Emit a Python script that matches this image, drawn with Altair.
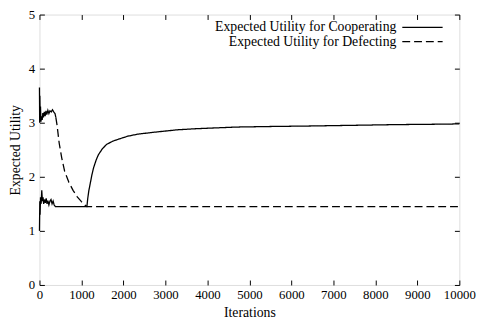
import altair as alt
import pandas as pd

# ---- data ----
coop_iter = [0, 8, 15, 25, 40, 55, 70, 85, 100, 120, 140, 160, 180, 200, 225, 250, 275, 300, 325, 350, 380,
             1130, 1150, 1175, 1210, 1250, 1290, 1350, 1405, 1500, 1600, 1750, 1900, 2100, 2350, 2800, 3300,
             3750, 4700, 5500, 6500, 7300, 8500, 9800, 10000]
coop_val = [1.0, 1.55, 1.3, 1.62, 1.5, 1.75, 1.55, 1.62, 1.5, 1.58, 1.52, 1.6, 1.5, 1.56, 1.48, 1.55, 1.58, 1.5, 1.55, 1.48, 1.45,
            1.45, 1.6, 1.74, 1.88, 2.04, 2.17, 2.31, 2.41, 2.52, 2.60, 2.66, 2.70, 2.75, 2.79, 2.83, 2.87,
            2.89, 2.92, 2.93, 2.94, 2.95, 2.965, 2.975, 2.98]

defect_early_iter = [0, 5, 10, 18, 25, 35, 50, 65, 80, 95, 115, 135, 155, 175, 200, 225, 250, 280, 310, 340, 370, 390]
defect_early_val = [3.65, 3.0, 3.5, 3.05, 3.3, 3.02, 3.12, 3.05, 3.18, 3.1, 3.2, 3.12, 3.22, 3.15, 3.23, 3.17, 3.22, 3.2,
                    3.24, 3.2, 3.17, 3.1]
defect_late_iter = [390, 420, 470, 530, 600, 700, 800, 900, 1000, 1080, 1130, 10000]
defect_late_val = [3.1, 2.95, 2.62, 2.35, 2.1, 1.9, 1.75, 1.63, 1.54, 1.48, 1.45, 1.45]

labels = ["Expected Utility for Cooperating", "Expected Utility for Defecting"]

x_ticks = list(range(0, 10001, 1000))
y_ticks = [0, 1, 2, 3, 4, 5]

rows = []
for i, v in zip(coop_iter, coop_val):
    rows.append({"iter": i, "u": v, "part": "coop", "style": "solid"})
for i, v in zip(defect_early_iter, defect_early_val):
    rows.append({"iter": i, "u": v, "part": "def_early", "style": "solid"})
for i, v in zip(defect_late_iter, defect_late_val):
    rows.append({"iter": i, "u": v, "part": "def_late", "style": "dashed"})
df = pd.DataFrame(rows)

FONT = "Liberation Serif"
W, H = 427, 275
LFS = 13
TFS = 14

xscale = alt.Scale(domain=[0, 10000], nice=False, zero=False)
yscale = alt.Scale(domain=[0, 5], nice=False)

lines = alt.Chart(df).mark_line(color="black", strokeWidth=1.3).encode(
    x=alt.X("iter:Q", scale=xscale,
            axis=alt.Axis(orient="bottom", values=x_ticks, format="d", title="Iterations",
                          offset=-5, tickSize=5, domain=False, grid=False, labelPadding=4,
                          labelOverlap=False, labelBound=False, labelFlush=False,
                          labelFont=FONT, labelFontSize=LFS, labelColor="black", tickColor="black",
                          titleFont=FONT, titleFontSize=TFS, titleFontWeight="normal", titleColor="black",
                          titleBaseline="alphabetic", titleY=37)),
    y=alt.Y("u:Q", scale=yscale,
            axis=alt.Axis(orient="left", values=y_ticks, format="d", title="Expected Utility",
                          offset=-5, tickSize=5, domain=False, grid=False, labelPadding=5,
                          labelOverlap=False, labelFlush=False,
                          labelFont=FONT, labelFontSize=LFS, labelColor="black", tickColor="black",
                          titleFont=FONT, titleFontSize=TFS, titleFontWeight="normal", titleColor="black",
                          titleBaseline="alphabetic", titleX=-25)),
    strokeDash=alt.StrokeDash("style:N", scale=alt.Scale(domain=["solid", "dashed"], range=[[1, 0], [8, 4]]),
                              legend=None),
    detail="part:N",
)

mirror = alt.Chart(df).mark_point(opacity=0).encode(
    x=alt.X("iter:Q", scale=xscale,
            axis=alt.Axis(orient="top", values=x_ticks, labels=False, title=None, offset=-5, tickSize=5,
                          domain=False, grid=False, tickColor="black")),
    y=alt.Y("u:Q", scale=yscale,
            axis=alt.Axis(orient="right", values=y_ticks, labels=False, title=None, offset=-5, tickSize=5,
                          domain=False, grid=False, tickColor="black")),
)

legend_layers = []
row_y = [13, 27.5]
dashes = [[1, 0], [8, 4]]
for lab, yy, dsh in zip(labels, row_y, dashes):
    ldf = pd.DataFrame({"label": [lab]})
    legend_layers.append(
        alt.Chart(ldf).mark_text(align="right", baseline="middle", font=FONT, fontSize=TFS, color="black").encode(
            text="label:N", x=alt.value(363), y=alt.value(yy)))
    legend_layers.append(
        alt.Chart(ldf).mark_rule(color="black", strokeWidth=1.3, strokeDash=dsh).encode(
            x=alt.value(369), x2=alt.value(410), y=alt.value(yy)))

chart = alt.layer(lines, mirror, *legend_layers).resolve_axis(
    x="independent", y="independent"
).resolve_scale(x="shared", y="shared").properties(
    width=W, height=H,
    autosize=alt.AutoSizeParams(type="none"),
    padding={"left": 32, "top": 4, "right": 20, "bottom": 35},
).configure_view(stroke="black", strokeWidth=1.2).configure(background="white")

chart.save("out.html", embed_options={"renderer": "svg", "actions": False})
